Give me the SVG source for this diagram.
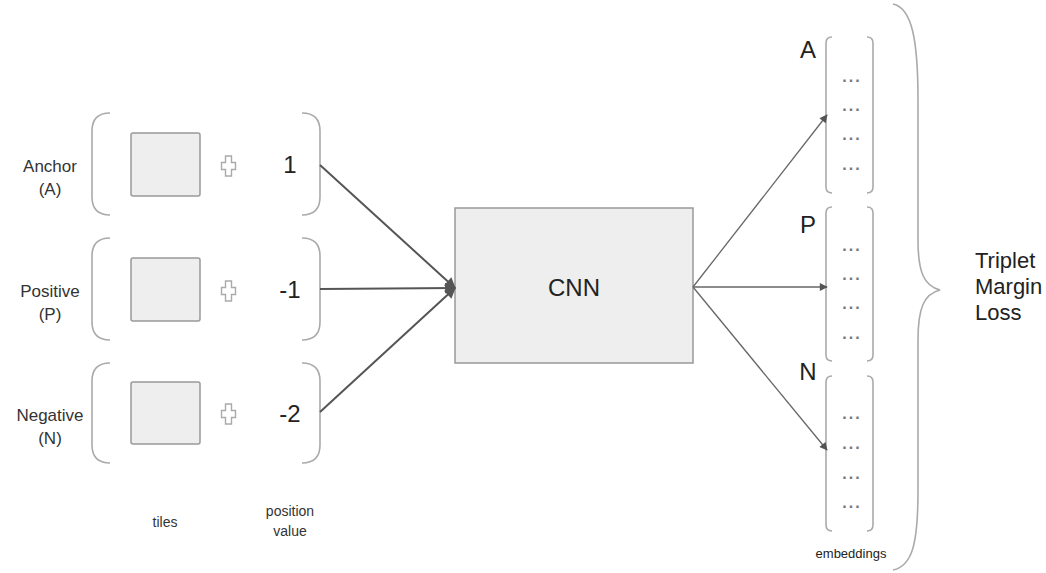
<svg xmlns="http://www.w3.org/2000/svg" width="1046" height="573" viewBox="0 0 1046 573">
<style>
text{font-family:"Liberation Sans",Arial,sans-serif;fill:#222}
.lbl{font-size:17px;text-anchor:middle;fill:#333}
.num{font-size:24px;text-anchor:middle}
.small{font-size:14px;text-anchor:middle;fill:#333}
.br{fill:none;stroke:#aaa;stroke-width:1.6}
.tile{fill:#eeeeee;stroke:#999;stroke-width:1.5}
.plus{fill:#fff;stroke:#aaa;stroke-width:1.4}
.dots{font-size:16px;text-anchor:middle;fill:#777;letter-spacing:2px;font-weight:bold}
.conL{stroke:#555;stroke-width:2;fill:none}
.conR{stroke:#666;stroke-width:1.3;fill:none}
.emb{font-size:24px;text-anchor:middle;fill:#222}
</style>
<defs>
<marker id="ah" viewBox="0 0 10 10" refX="9" refY="5" markerWidth="11" markerHeight="8" markerUnits="userSpaceOnUse" orient="auto">
<path d="M0,0 L10,5 L0,10 z" fill="#555"/>
</marker>
<marker id="ahL" viewBox="0 0 10 10" refX="9" refY="5" markerWidth="14" markerHeight="11" orient="auto" markerUnits="userSpaceOnUse">
<path d="M0,0 L10,5 L0,10 z" fill="#555"/>
</marker>
<polygon id="plusShape" points="-3,-10 3,-10 3,-3.5 7,-3.5 7,3.5 3,3.5 3,10 -3,10 -3,3.5 -7,3.5 -7,-3.5 -3,-3.5"/>
</defs>
<rect width="1046" height="573" fill="#fff"/>

<g id="row-anchor">
<text class="lbl" x="50" y="172">Anchor</text>
<text class="lbl" x="50" y="195">(A)</text>
<path class="br" d="M110,113 Q92,113 92,131 L92,197 Q92,215 110,215"/>
<rect class="tile" x="131" y="133" width="69" height="63" rx="2"/>
<use href="#plusShape" class="plus" x="228.5" y="166"/>
<text class="num" x="290" y="173">1</text>
<path class="br" d="M302,113 Q320,113 320,131 L320,197 Q320,215 302,215"/>
</g>

<g id="row-positive">
<text class="lbl" x="50" y="297">Positive</text>
<text class="lbl" x="50" y="320">(P)</text>
<path class="br" d="M110,238 Q92,238 92,256 L92,322 Q92,340 110,340"/>
<rect class="tile" x="131" y="258" width="69" height="63" rx="2"/>
<use href="#plusShape" class="plus" x="228.5" y="291"/>
<text class="num" x="290" y="298">-1</text>
<path class="br" d="M302,238 Q320,238 320,256 L320,322 Q320,340 302,340"/>
</g>

<g id="row-negative">
<text class="lbl" x="50" y="421">Negative</text>
<text class="lbl" x="50" y="444">(N)</text>
<path class="br" d="M110,363 Q92,363 92,381 L92,445 Q92,463 110,463"/>
<rect class="tile" x="131" y="382" width="69" height="62" rx="2"/>
<use href="#plusShape" class="plus" x="228.5" y="414"/>
<text class="num" x="290" y="422">-2</text>
<path class="br" d="M302,363 Q320,363 320,381 L320,445 Q320,463 302,463"/>
</g>

<g id="labels-bottom">
<text class="small" x="165" y="527">tiles</text>
<text class="small" x="290" y="516">position</text>
<text class="small" x="290" y="536">value</text>
</g>

<g id="cnn">
<rect x="455" y="208" width="238" height="155" fill="#eeeeee" stroke="#999" stroke-width="1.5"/>
<text x="574" y="296" font-size="24" text-anchor="middle">CNN</text>
</g>

<g id="emb-A">
<text class="emb" x="808" y="58">A</text>
<path class="br" d="M832,37 Q826,37 826,43 L826,187 Q826,193 832,193"/>
<path class="br" d="M867,37 Q873,37 873,43 L873,187 Q873,193 867,193"/>
<text class="dots" x="852" y="82">...</text>
<text class="dots" x="852" y="111">...</text>
<text class="dots" x="852" y="140">...</text>
<text class="dots" x="852" y="170">...</text>
</g>

<g id="emb-P">
<text class="emb" x="808" y="233">P</text>
<path class="br" d="M832,207 Q826,207 826,213 L826,355 Q826,361 832,361"/>
<path class="br" d="M867,207 Q873,207 873,213 L873,355 Q873,361 867,361"/>
<text class="dots" x="852" y="251">...</text>
<text class="dots" x="852" y="280">...</text>
<text class="dots" x="852" y="309">...</text>
<text class="dots" x="852" y="339">...</text>
</g>

<g id="emb-N">
<text class="emb" x="808" y="380">N</text>
<path class="br" d="M832,376 Q826,376 826,382 L826,525 Q826,531 832,531"/>
<path class="br" d="M867,376 Q873,376 873,382 L873,525 Q873,531 867,531"/>
<text class="dots" x="852" y="419">...</text>
<text class="dots" x="852" y="449">...</text>
<text class="dots" x="852" y="479">...</text>
<text class="dots" x="852" y="508">...</text>
</g>

<g id="embeddings-label">
<text x="851" y="558" font-size="13" text-anchor="middle" fill="#333">embeddings</text>
</g>

<g id="loss">
<path class="br" d="M893,4 C912,8 918,40 918,100 L918,240 C918,272 924,286 940,290 C924,294 918,308 918,340 L918,490 C918,545 912,566 893,570"/>
<text x="975" y="268" font-size="22">Triplet</text>
<text x="975" y="294" font-size="22">Margin</text>
<text x="975" y="320" font-size="22">Loss</text>
</g>

<g id="connectors">
<line class="conL" x1="320" y1="165" x2="455" y2="288" marker-end="url(#ahL)"/>
<line class="conL" x1="320" y1="289" x2="455" y2="288" marker-end="url(#ahL)"/>
<line class="conL" x1="320" y1="412" x2="455" y2="288" marker-end="url(#ahL)"/>
<line class="conR" x1="693" y1="287" x2="827" y2="115" marker-end="url(#ah)"/>
<line class="conR" x1="693" y1="287" x2="827" y2="287" marker-end="url(#ah)"/>
<line class="conR" x1="693" y1="287" x2="827" y2="450" marker-end="url(#ah)"/>
</g>
</svg>
